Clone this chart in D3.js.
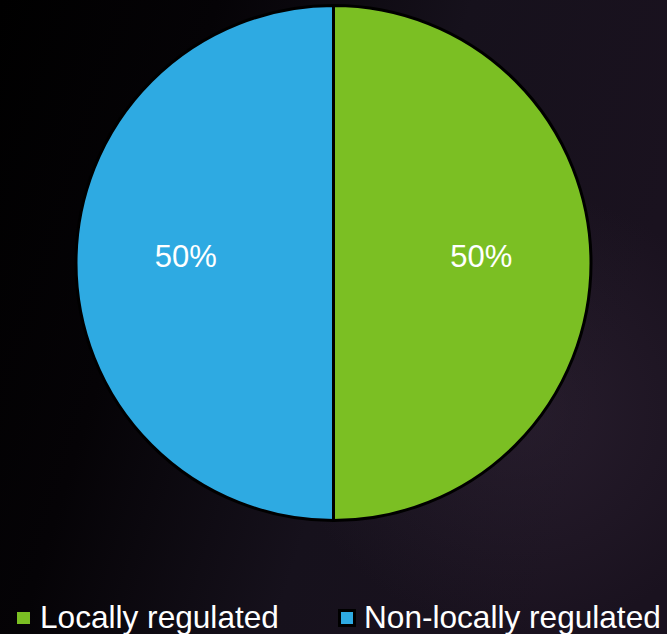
<!DOCTYPE html>
<html><head><meta charset="utf-8">
<script src="https://cdn.jsdelivr.net/npm/d3@7"></script>
<style>html,body{margin:0;padding:0;background:#000;}svg{display:block;}</style>
</head><body>
<svg id="chart" width="667" height="634"></svg>
<script>
const categories = ["Locally regulated", "Non-locally regulated"];
const values = [50, 50];
const labels = ["50%", "50%"];
const colors = ["#7bbf23", "#2eaae2"];

const svg = d3.select("#chart");
const W = 667, H = 634;
const defs = svg.append("defs");
const lg = defs.append("linearGradient").attr("id","bg").attr("x1","0").attr("y1","0").attr("x2","1").attr("y2","0.3");
lg.append("stop").attr("offset","0").attr("stop-color","#000000");
lg.append("stop").attr("offset","0.3").attr("stop-color","#050306");
lg.append("stop").attr("offset","0.65").attr("stop-color","#16111c");
lg.append("stop").attr("offset","1").attr("stop-color","#1a121f");
svg.append("rect").attr("width",W).attr("height",H).attr("fill","url(#bg)");
const rg = defs.append("radialGradient").attr("id","glow").attr("cx","0.78").attr("cy","0.65").attr("r","0.35");
rg.append("stop").attr("offset","0").attr("stop-color","#3a2c40").attr("stop-opacity",0.4);
rg.append("stop").attr("offset","1").attr("stop-color","#3a2c40").attr("stop-opacity",0);
svg.append("rect").attr("width",W).attr("height",H).attr("fill","url(#glow)");

const cx = 333.5, cy = 263, r = 257.5;
const pie = d3.pie().sort(null).value(d => d)(values);
const arc = d3.arc().innerRadius(0).outerRadius(r);
const labelArc = d3.arc().innerRadius(r*0.574).outerRadius(r*0.574);
const color = d3.scaleOrdinal().domain(categories).range(colors);

const g = svg.append("g").attr("transform", `translate(${cx},${cy})`);
g.selectAll("path.slice").data(pie).join("path")
  .attr("class","slice")
  .attr("d", arc)
  .attr("fill", (d,i) => color(categories[i]))
  .attr("stroke", "#000")
  .attr("stroke-width", 3)
  .attr("stroke-linejoin","round");

g.selectAll("text.lbl").data(pie).join("text")
  .attr("class","lbl")
  .attr("x", d => labelArc.centroid(d)[0])
  .attr("y", 3.5)
  .attr("text-anchor","middle")
  .attr("font-family","'Liberation Sans', Arial, sans-serif")
  .attr("font-size", 31)
  .attr("fill","#fff")
  .text((d,i) => labels[i]);

// legend
const legendX = [17, 341];
const lgG = svg.append("g");
categories.forEach((c,i) => {
  const x = legendX[i];
  if (i === 1) {
    lgG.append("rect").attr("x", x - 1.5).attr("y", 610.5).attr("width", 15).attr("height", 15)
      .attr("fill", color(c)).attr("stroke", "#000").attr("stroke-width", 3);
  } else {
    lgG.append("rect").attr("x", x).attr("y", 612).attr("width", 13).attr("height", 12)
      .attr("fill", color(c));
  }
  lgG.append("text").attr("x", x + 23).attr("y", 628)
    .attr("font-family","'Liberation Sans', Arial, sans-serif")
    .attr("font-size", 31.6).attr("fill","#fff").text(c);
});
</script>
</body></html>
